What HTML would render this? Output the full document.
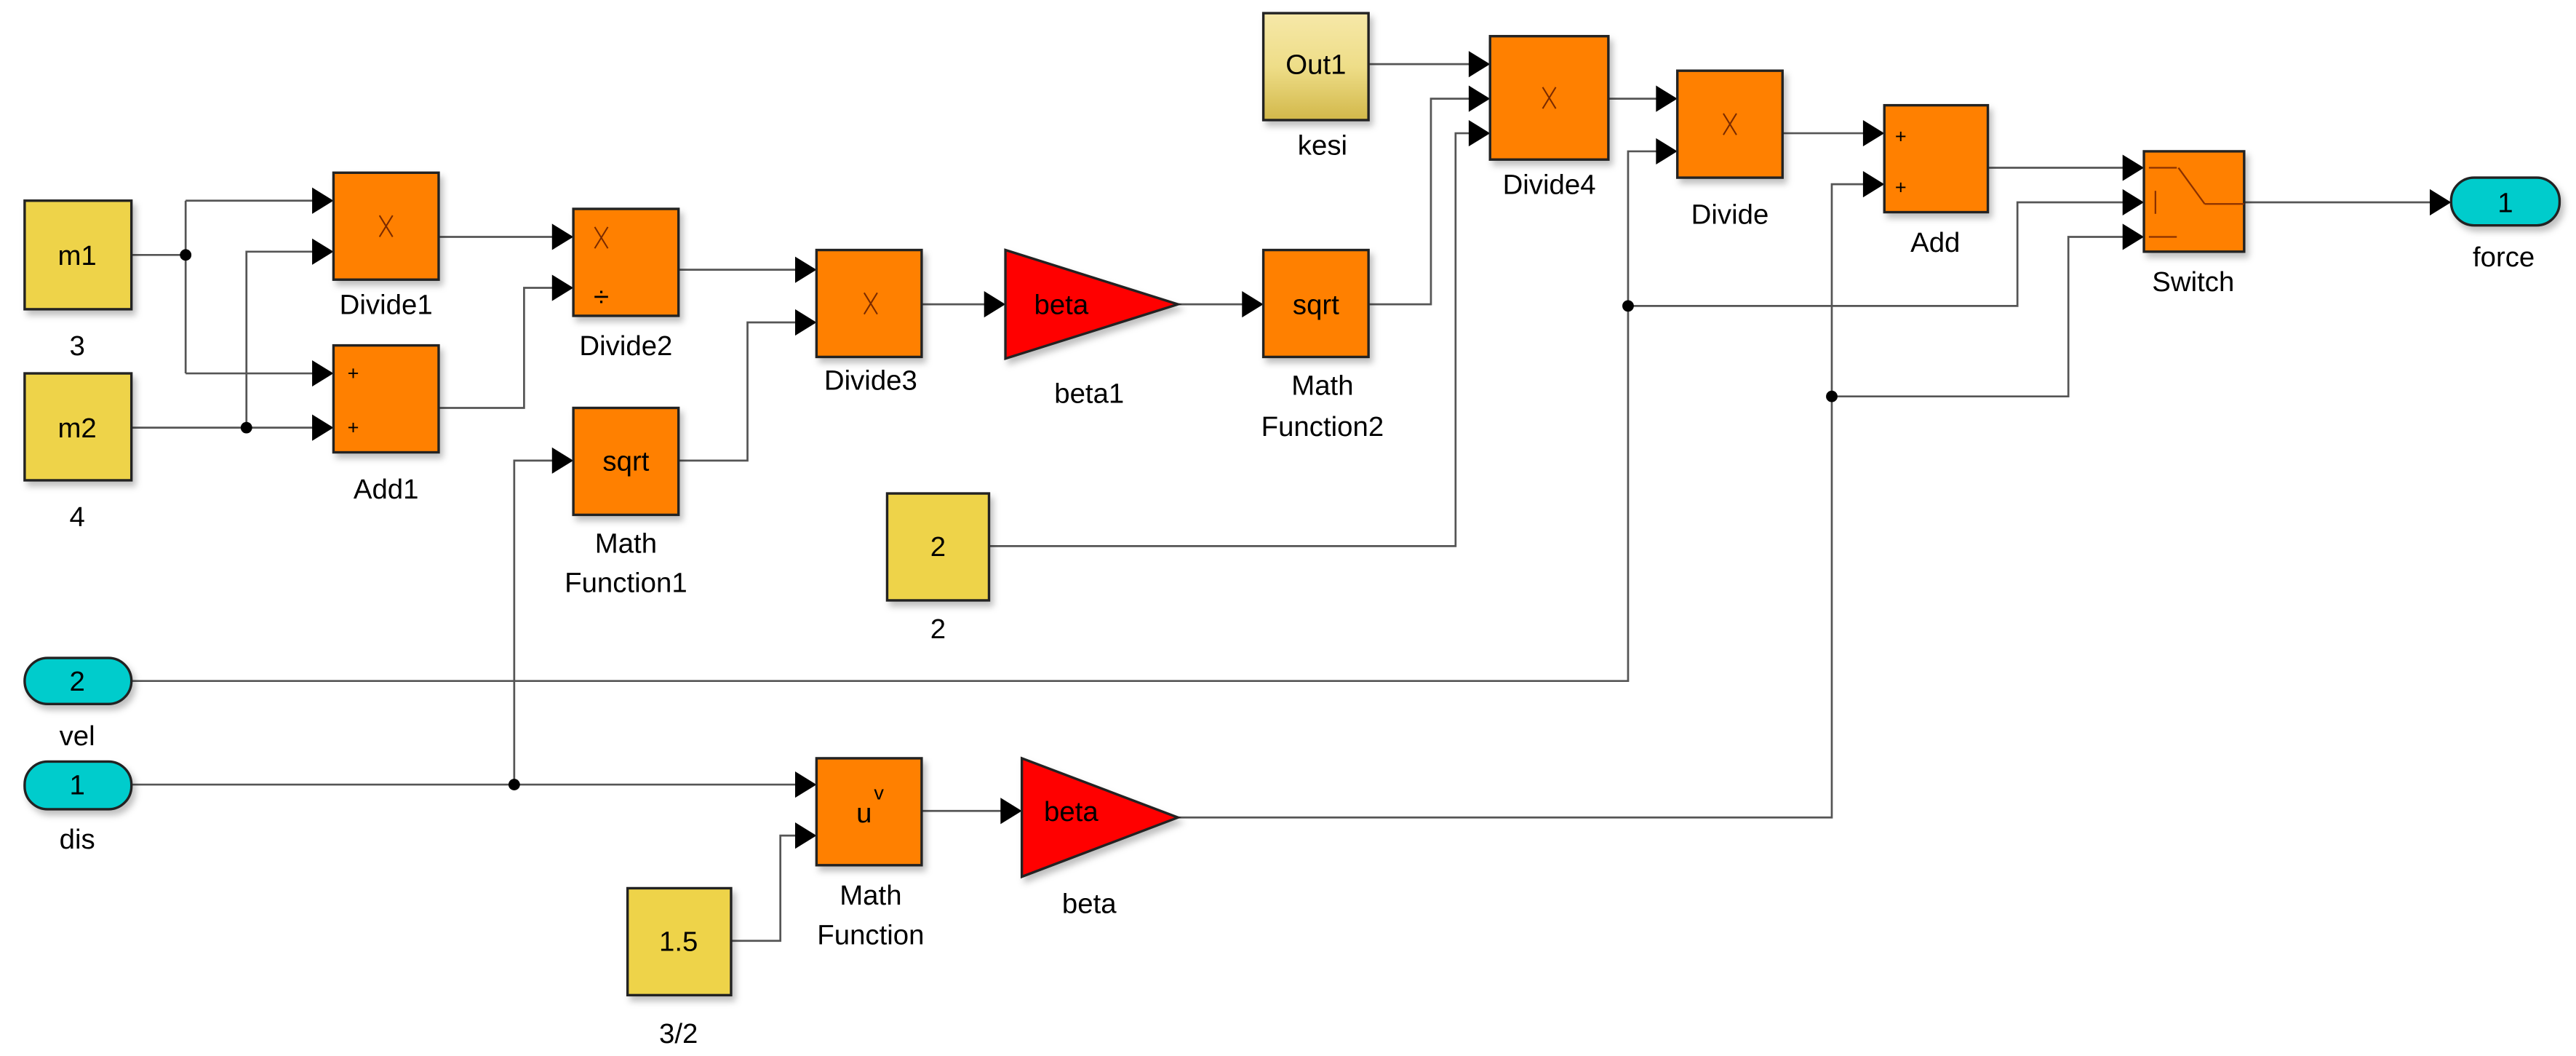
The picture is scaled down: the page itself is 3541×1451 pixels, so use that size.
<!DOCTYPE html>
<html><head><meta charset="utf-8"><style>
html,body{margin:0;padding:0;background:#fff;}
svg{display:block;}
text{font-family:"Liberation Sans",Arial,sans-serif;fill:#000;}
</style></head><body>
<svg width="3541" height="1451" viewBox="0 0 1568 642" preserveAspectRatio="none" xmlns="http://www.w3.org/2000/svg">
<defs>
<filter id="sh" x="-20%" y="-20%" width="150%" height="150%"><feDropShadow dx="2" dy="3" stdDeviation="2" flood-color="#000" flood-opacity="0.25"/></filter>
<linearGradient id="kg" x1="0" y1="0" x2="0" y2="1"><stop offset="0" stop-color="#f6e8a8"/><stop offset="0.5" stop-color="#eedd88"/><stop offset="1" stop-color="#d2b84a"/></linearGradient>
</defs>
<g stroke="#555" stroke-width="1.2" fill="none">
<polyline points="80,155 113,155"/>
<polyline points="113,122 113,227"/>
<polyline points="113,122 195,122"/>
<polyline points="113,227 195,227"/>
<polyline points="80,260 195,260"/>
<polyline points="150,260 150,153 195,153"/>
<polyline points="267,144 341,144"/>
<polyline points="267,248 319,248 319,175 341,175"/>
<polyline points="413,164 489,164"/>
<polyline points="413,280 455,280 455,196 489,196"/>
<polyline points="561,185 604,185"/>
<polyline points="717,185 761,185"/>
<polyline points="833,185 871,185 871,60 899,60"/>
<polyline points="833,39 899,39"/>
<polyline points="602,332 886,332 886,81 899,81"/>
<polyline points="979,60 1013,60"/>
<polyline points="80,414 991,414 991,92 1013,92"/>
<polyline points="991,186 1228,186 1228,123 1297,123"/>
<polyline points="1085,81 1139,81"/>
<polyline points="1210,102 1297,102"/>
<polyline points="717,497 1115,497 1115,112 1139,112"/>
<polyline points="1115,241 1259,241 1259,144 1297,144"/>
<polyline points="1366,123 1484,123"/>
<polyline points="80,477 489,477"/>
<polyline points="313,477 313,280 341,280"/>
<polyline points="561,493 614,493"/>
<polyline points="445,572 475,572 475,508 489,508"/>
</g>
<g fill="#000">
<circle cx="113" cy="155" r="3.5"/><circle cx="150" cy="260" r="3.5"/>
<circle cx="991" cy="186" r="3.5"/><circle cx="1115" cy="241" r="3.5"/>
<circle cx="313" cy="477" r="3.5"/>
<path d="M190,114 L203,122 L190,130Z"/><path d="M190,145 L203,153 L190,161Z"/>
<path d="M190,219 L203,227 L190,235Z"/><path d="M190,252 L203,260 L190,268Z"/>
<path d="M336,136 L349,144 L336,152Z"/><path d="M336,167 L349,175 L336,183Z"/>
<path d="M484,156 L497,164 L484,172Z"/><path d="M484,188 L497,196 L484,204Z"/>
<path d="M599,177 L612,185 L599,193Z"/><path d="M756,177 L769,185 L756,193Z"/>
<path d="M336,272 L349,280 L336,288Z"/>
<path d="M894,31 L907,39 L894,47Z"/><path d="M894,52 L907,60 L894,68Z"/><path d="M894,73 L907,81 L894,89Z"/>
<path d="M1008,52 L1021,60 L1008,68Z"/><path d="M1008,84 L1021,92 L1008,100Z"/>
<path d="M1134,73 L1147,81 L1134,89Z"/><path d="M1134,104 L1147,112 L1134,120Z"/>
<path d="M1292,94 L1305,102 L1292,110Z"/><path d="M1292,115 L1305,123 L1292,131Z"/><path d="M1292,136 L1305,144 L1292,152Z"/>
<path d="M1479,115 L1492,123 L1479,131Z"/>
<path d="M484,469 L497,477 L484,485Z"/><path d="M484,500 L497,508 L484,516Z"/>
<path d="M609,485 L622,493 L609,501Z"/>
</g>
<g stroke="#222" stroke-width="1.5" filter="url(#sh)">
<rect x="15" y="122" width="65" height="66" fill="#eed349"/>
<rect x="15" y="227" width="65" height="65" fill="#eed349"/>
<rect x="203" y="105" width="64" height="65" fill="#ff8000"/>
<rect x="203" y="210" width="64" height="65" fill="#ff8000"/>
<rect x="349" y="127" width="64" height="65" fill="#ff8000"/>
<rect x="349" y="248" width="64" height="65" fill="#ff8000"/>
<rect x="497" y="152" width="64" height="65" fill="#ff8000"/>
<polygon points="612,152 717,185 612,218" fill="#ff0000"/>
<rect x="769" y="152" width="64" height="65" fill="#ff8000"/>
<rect x="769" y="8" width="64" height="65" fill="url(#kg)"/>
<rect x="907" y="22" width="72" height="75" fill="#ff8000"/>
<rect x="1021" y="43" width="64" height="65" fill="#ff8000"/>
<rect x="1147" y="64" width="63" height="65" fill="#ff8000"/>
<rect x="1305" y="92" width="61" height="61" fill="#ff8000"/>
<rect x="1492" y="108" width="66" height="29" rx="14" fill="#00cccc"/>
<rect x="540" y="300" width="62" height="65" fill="#eed349"/>
<rect x="15" y="400" width="65" height="28" rx="14" fill="#00cccc"/>
<rect x="15" y="463" width="65" height="29" rx="14" fill="#00cccc"/>
<rect x="497" y="461" width="64" height="65" fill="#ff8000"/>
<rect x="382" y="540" width="63" height="65" fill="#eed349"/>
<polygon points="622,461 717,497 622,533" fill="#ff0000"/>
</g>
<g stroke="#8a3000" stroke-width="1" fill="none">
<line x1="1308" y1="102" x2="1325" y2="102"/><line x1="1308" y1="144" x2="1325" y2="144"/>
<line x1="1312" y1="116" x2="1312" y2="130"/>
<line x1="1326" y1="102" x2="1342" y2="124"/><line x1="1342" y1="124" x2="1366" y2="124"/>
</g>
<!-- x marks -->
<g stroke="#7a2a00" stroke-width="0.9" fill="none">
<path d="M231,131 L239,144 M239,131 L231,144"/>
<path d="M362,138 L370,151 M370,138 L362,151"/>
<path d="M526,178 L534,191 M534,178 L526,191"/>
<path d="M939,53 L947,66 M947,53 L939,66"/>
<path d="M1049,69 L1057,82 M1057,69 L1049,82"/>
</g>
<g font-size="17" text-anchor="middle">
<text x="47" y="161">m1</text><text x="47" y="266">m2</text>
<text x="366" y="186" font-size="17">÷</text>
<text x="215" y="231" font-size="12">+</text><text x="215" y="264" font-size="12">+</text>
<text x="381" y="286">sqrt</text>
<text x="646" y="191">beta</text>
<text x="801" y="191">sqrt</text>
<text x="801" y="45">Out1</text>
<text x="1157" y="87" font-size="12">+</text><text x="1157" y="118" font-size="12">+</text>
<text x="1525" y="129">1</text>
<text x="571" y="338">2</text>
<text x="47" y="420">2</text>
<text x="47" y="483">1</text>
<text x="526" y="500">u</text><text x="535" y="486" font-size="12">v</text>
<text x="413" y="578">1.5</text>
<text x="652" y="499">beta</text>
</g>
<g font-size="17" text-anchor="middle">
<text x="47" y="216">3</text><text x="47" y="320">4</text>
<text x="235" y="191">Divide1</text>
<text x="235" y="303">Add1</text>
<text x="381" y="216">Divide2</text>
<text x="530" y="237">Divide3</text>
<text x="381" y="336">Math</text><text x="381" y="360">Function1</text>
<text x="663" y="245">beta1</text>
<text x="805" y="240">Math</text><text x="805" y="265">Function2</text>
<text x="805" y="94">kesi</text>
<text x="943" y="118">Divide4</text>
<text x="1053" y="136">Divide</text>
<text x="1178" y="153">Add</text>
<text x="1335" y="177">Switch</text>
<text x="1524" y="162">force</text>
<text x="571" y="388">2</text>
<text x="47" y="453">vel</text>
<text x="47" y="516">dis</text>
<text x="530" y="550">Math</text><text x="530" y="574">Function</text>
<text x="663" y="555">beta</text>
<text x="413" y="634">3/2</text>
</g>
</svg>
</body></html>
